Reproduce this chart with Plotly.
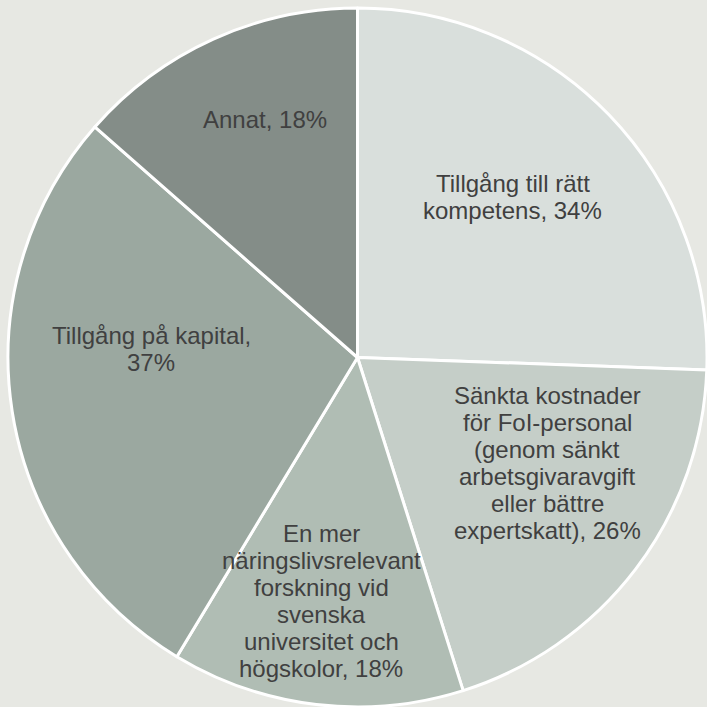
import math
import plotly.graph_objects as go

# Survey answers: share of respondents per factor (%)
categories = [
    "Tillgång till rätt kompetens",
    "Sänkta kostnader för FoI-personal (genom sänkt arbetsgivaravgift eller bättre expertskatt)",
    "En mer näringslivsrelevant forskning vid svenska universitet och högskolor",
    "Tillgång på kapital",
    "Annat",
]
values = [34, 26, 18, 37, 18]

# Wrapped label lines (the percentage is appended from `values`)
label_lines = [
    ["Tillgång till rätt", "kompetens, {v}%"],
    ["Sänkta kostnader", "för FoI-personal", "(genom sänkt", "arbetsgivaravgift",
     "eller bättre", "expertskatt), {v}%"],
    ["En mer", "näringslivsrelevant", "forskning vid", "svenska",
     "universitet och", "högskolor, {v}%"],
    ["Tillgång på kapital,", "{v}%"],
    ["Annat, {v}%"],
]

# Label anchor in polar form: (degrees clockwise from 12 o'clock, fraction of radius)
label_polar = [(44.0, 0.64), (119.0, 0.62), (188.5, 0.705), (272.5, 0.59), (338.7, 0.73)]

colors = ["#D9DFDC", "#C5CEC8", "#B0BDB4", "#9BA8A0", "#848D88"]
BG = "#E7E8E3"
TEXT = "#404040"

W = H = 707
pad = 8  # px between pie and left/top edges
dom_x = [pad / W, 1.0]
dom_y = [0.0, 1.0 - pad / H]

fig = go.Figure(go.Pie(
    labels=categories,
    values=values,
    sort=False,
    direction="clockwise",
    rotation=0,
    textinfo="none",
    marker=dict(colors=colors, line=dict(color="white", width=3)),
    domain=dict(x=dom_x, y=dom_y),
    showlegend=False,
))

# Pie geometry in pixels (from top-left)
radius_px = min((dom_x[1] - dom_x[0]) * W, (dom_y[1] - dom_y[0]) * H) / 2
cx_px = dom_x[0] * W + (dom_x[1] - dom_x[0]) * W / 2
cy_px = (1 - dom_y[1]) * H + (dom_y[1] - dom_y[0]) * H / 2

font_size = 24
line_gap = 27  # px between text lines

annotations = []
for lines, val, (ang, frac) in zip(label_lines, values, label_polar):
    a = math.radians(ang)
    x_px = cx_px + frac * radius_px * math.sin(a)
    y_px = cy_px - frac * radius_px * math.cos(a)
    n = len(lines)
    for i, ln in enumerate(lines):
        ly = y_px + (i - (n - 1) / 2) * line_gap
        annotations.append(dict(
            x=x_px / W, y=1 - ly / H, xref="paper", yref="paper",
            text=ln.format(v=val), showarrow=False,
            xanchor="center", yanchor="middle",
            font=dict(family="Liberation Sans, Arial, sans-serif", size=font_size, color=TEXT),
        ))

fig.update_layout(
    width=W, height=H,
    margin=dict(l=0, r=0, t=0, b=0),
    paper_bgcolor=BG,
    plot_bgcolor=BG,
    annotations=annotations,
)

fig.write_html("out.html")
